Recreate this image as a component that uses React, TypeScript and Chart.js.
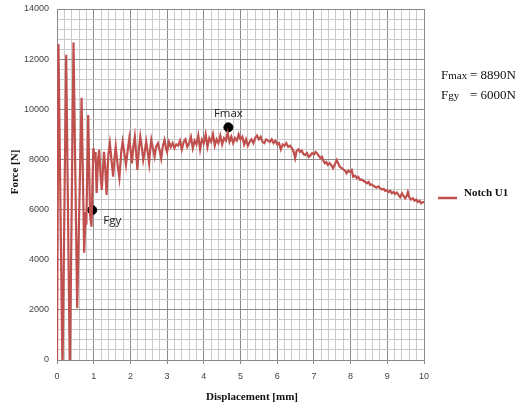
import React, { useEffect, useRef } from "react";
import { Chart, registerables } from "chart.js";

Chart.register(...registerables);

const displacement: number[] = [
  0, 0.04, 0.15, 0.25, 0.35, 0.45, 0.55, 0.67, 0.74, 0.78, 0.8, 0.85, 0.9, 0.94,
  0.99, 1.03, 1.05, 1.08, 1.12, 1.15, 1.19, 1.22, 1.28, 1.31, 1.35, 1.4, 1.44, 1.49,
  1.53, 1.57, 1.6, 1.65, 1.7, 1.75, 1.79, 1.84, 1.88, 1.93, 1.97, 2.01, 2.04, 2.08,
  2.12, 2.16, 2.19, 2.23, 2.27, 2.31, 2.35, 2.39, 2.43, 2.47, 2.51, 2.54, 2.57, 2.62,
  2.66, 2.7, 2.75, 2.8, 2.84, 2.88, 2.93, 2.97, 3.0, 3.05, 3.1, 3.15, 3.2, 3.25,
  3.3, 3.35, 3.4, 3.45, 3.5, 3.55, 3.6, 3.65, 3.7, 3.75, 3.8, 3.85, 3.9, 3.95,
  4.0, 4.05, 4.1, 4.15, 4.2, 4.25, 4.3, 4.35, 4.4, 4.45, 4.5, 4.55, 4.6, 4.65,
  4.7, 4.75, 4.8, 4.85, 4.9, 4.95, 5.0, 5.05, 5.1, 5.15, 5.2, 5.25, 5.3, 5.35,
  5.4, 5.45, 5.5, 5.55, 5.6, 5.65, 5.7, 5.75, 5.8, 5.85, 5.9, 5.95, 6.0, 6.05,
  6.1, 6.15, 6.2, 6.25, 6.3, 6.35, 6.4, 6.45, 6.49, 6.53, 6.58, 6.62, 6.67, 6.72,
  6.76, 6.81, 6.86, 6.9, 6.95, 7.0, 7.05, 7.08, 7.13, 7.18, 7.22, 7.26, 7.3, 7.34,
  7.38, 7.43, 7.48, 7.52, 7.57, 7.62, 7.66, 7.71, 7.76, 7.8, 7.85, 7.89, 7.94, 7.98,
  8.03, 8.07, 8.12, 8.17, 8.21, 8.26, 8.3, 8.35, 8.4, 8.44, 8.49, 8.53, 8.58, 8.62,
  8.67, 8.71, 8.76, 8.8, 8.85, 8.9, 8.94, 8.98, 9.03, 9.08, 9.12, 9.17, 9.21, 9.26,
  9.3, 9.35, 9.4, 9.44, 9.49, 9.53, 9.56, 9.6, 9.65, 9.7, 9.74, 9.79, 9.83, 9.88,
  9.92, 9.96, 10.0,
];

const force: number[] = [
  0, 12600, -500, 12170, -500, 12660, 2070, 10460, 4280, 5900, 5400, 9770, 5800, 5320,
  8450, 8100, 8300, 6660, 8000, 8380, 7300, 6780, 8300, 7800, 6580, 8200, 8640, 7900,
  7310, 8100, 8510, 7800, 7260, 8300, 8710, 8200, 7780, 8400, 8840, 8300, 7840, 8500,
  8910, 8200, 7580, 8400, 8910, 8500, 7980, 8300, 8710, 8300, 7840, 8400, 8780, 8400,
  8110, 8500, 8640, 8350, 8040, 8500, 8780, 8450, 8300, 8700, 8500, 8650, 8450, 8600,
  8550, 8750, 8400, 8700, 8800, 8500, 8650, 8900, 8450, 8750, 8600, 8950, 8400, 8800,
  8650, 9000, 8500, 8850, 8700, 9000, 8550, 8800, 8650, 8950, 8600, 8850, 8750, 9050,
  8700, 8900, 8650, 8850, 8750, 9000, 8800, 8900, 8600, 8800, 8550, 8700, 8800, 8650,
  8850, 8950, 8800, 8900, 8700, 8650, 8800, 8750, 8700, 8800, 8650, 8750, 8600, 8650,
  8400, 8600, 8550, 8650, 8500, 8550, 8450, 8300, 8050, 8350, 8400, 8300, 8350, 8200,
  8180, 8250, 8100, 8150, 8250, 8200, 8300, 8250, 8150, 8050, 8100, 7950, 7850, 7900,
  7780, 7850, 7750, 7650, 7800, 7980, 7850, 7700, 7650, 7600, 7550, 7450, 7550, 7500,
  7580, 7310, 7350, 7250, 7300, 7180, 7200, 7150, 7100, 7050, 7100, 6980, 7000, 6950,
  6900, 6880, 6920, 6850, 6800, 6830, 6750, 6780, 6700, 6750, 6650, 6700, 6620, 6680,
  6600, 6500, 6650, 6550, 6450, 6550, 6700, 6480, 6400, 6450, 6350, 6400, 6300, 6350,
  6250, 6300, 6300,
];

const markerX: number[] = [0.96, 4.67];
const markerY: number[] = [5980, 9280];
const markerLabels: string[] = ["Fgy", "Fmax"];

const seriesName = "Notch U1";
const noteSymbols: string[][] = [
  ["F", "max"],
  ["F", "gy"],
];
const noteValues: string[] = ["= 8890N", "= 6000N"];
const xTitle = "Displacement [mm]";
const yTitle = "Force [N]";

const LINE_COLOR = "#C0504D";

const isMult = (v: number, m: number) => Math.abs(v / m - Math.round(v / m)) < 1e-6;

export default function App() {
  const ref = useRef<HTMLCanvasElement | null>(null);

  useEffect(() => {
    if (!ref.current) return;

    const overlay = {
      id: "overlay",
      afterDraw(chart: any) {
        const ctx = chart.ctx as CanvasRenderingContext2D;
        const xs = chart.scales.x;
        const ys = chart.scales.y;
        ctx.save();
        // marker labels
        ctx.fillStyle = "#222";
        ctx.font = "11.5px 'Open Sans', 'Liberation Sans', sans-serif";
        ctx.textBaseline = "alphabetic";
        const px0 = xs.getPixelForValue(markerX[0]);
        const py0 = ys.getPixelForValue(markerY[0]);
        ctx.textAlign = "left";
        ctx.fillText(markerLabels[0], px0 + 11, py0 + 14);
        const px1 = xs.getPixelForValue(markerX[1]);
        const py1 = ys.getPixelForValue(markerY[1]);
        ctx.textAlign = "center";
        ctx.fillText(markerLabels[1], px1, py1 - 10);

        // notes
        ctx.fillStyle = "#111";
        ctx.textAlign = "left";
        const baselines = [79, 99];
        noteSymbols.forEach((parts, i) => {
          ctx.font = "13px 'Liberation Serif', serif";
          ctx.fillText(parts[0], 441, baselines[i]);
          const w = ctx.measureText(parts[0]).width;
          ctx.font = "11px 'Liberation Serif', serif";
          ctx.fillText(parts[1], 441 + w, baselines[i]);
          ctx.font = "13px 'Liberation Serif', serif";
          ctx.fillText(noteValues[i], 470, baselines[i]);
        });

        // legend
        ctx.strokeStyle = LINE_COLOR;
        ctx.lineWidth = 2.5;
        ctx.beginPath();
        ctx.moveTo(438, 198);
        ctx.lineTo(457, 198);
        ctx.stroke();
        ctx.fillStyle = "#111";
        ctx.font = "bold 11px 'Liberation Serif', serif";
        ctx.fillText(seriesName, 464, 196);

        // axis titles
        ctx.textAlign = "center";
        ctx.textBaseline = "middle";
        ctx.fillText(xTitle, 252, 397);
        ctx.translate(15, 172);
        ctx.rotate(-Math.PI / 2);
        ctx.fillText(yTitle, 0, 0);
        ctx.restore();
      },
    };

    const chart = new Chart(ref.current, {
      type: "line",
      data: {
        datasets: [
          {
            label: seriesName,
            data: displacement.map((x, i) => ({ x, y: force[i] })),
            borderColor: LINE_COLOR,
            borderWidth: 2.2,
            pointRadius: 0,
            tension: 0,
            fill: false,
          },
          {
            label: "markers",
            type: "scatter",
            data: markerX.map((x, i) => ({ x, y: markerY[i] })),
            backgroundColor: "#000",
            borderColor: "#000",
            pointRadius: 4.5,
            showLine: false,
          } as any,
        ],
      },
      options: {
        animation: false,
        responsive: false,
        events: [],
        layout: { padding: { top: 9, right: 94, left: 0, bottom: 0 } },
        plugins: {
          legend: { display: false },
          tooltip: { enabled: false },
          title: { display: false },
        },
        scales: {
          x: {
            type: "linear",
            min: 0,
            max: 10,
            afterFit: (s: any) => {
              s.height = 52;
              s.paddingLeft = 0;
              s.paddingRight = 0;
              s.paddingTop = 0;
              s.paddingBottom = 0;
            },
            ticks: {
              stepSize: 0.2,
              autoSkip: false,
              maxRotation: 0,
              padding: 7,
              color: "#444",
              font: { size: 9, family: "'Liberation Sans', sans-serif" },
              callback: (v: any) => (isMult(Number(v), 1) ? String(Math.round(Number(v))) : ""),
            },
            grid: {
              color: (c: any) => (c.tick && isMult(c.tick.value, 1) ? "#8a8a8a" : "#c9c9c9"),
              tickColor: (c: any) => (c.tick && isMult(c.tick.value, 1) ? "#8a8a8a" : "rgba(0,0,0,0)"),
              tickLength: 4,
              lineWidth: 1,
            },
            border: { color: "#8a8a8a" },
          },
          y: {
            type: "linear",
            min: 0,
            max: 14000,
            afterFit: (s: any) => {
              s.width = 57;
              s.paddingTop = 0;
              s.paddingBottom = 0;
              s.paddingLeft = 0;
              s.paddingRight = 0;
            },
            ticks: {
              stepSize: 400,
              autoSkip: false,
              padding: 8,
              color: "#444",
              font: { size: 9, family: "'Liberation Sans', sans-serif" },
              callback: (v: any) => (isMult(Number(v), 2000) ? String(Math.round(Number(v))) : ""),
            },
            grid: {
              color: (c: any) => (c.tick && isMult(c.tick.value, 2000) ? "#8a8a8a" : "#c9c9c9"),
              drawTicks: false,
              lineWidth: 1,
            },
            border: { color: "#8a8a8a" },
          },
        },
      },
      plugins: [overlay],
    });

    return () => chart.destroy();
  }, []);

  return (
    <div style={{ position: "fixed", left: 0, top: 0, width: 518, height: 412, background: "#fff" }}>
      <canvas ref={ref} width={518} height={412} style={{ display: "block" }} />
    </div>
  );
}
